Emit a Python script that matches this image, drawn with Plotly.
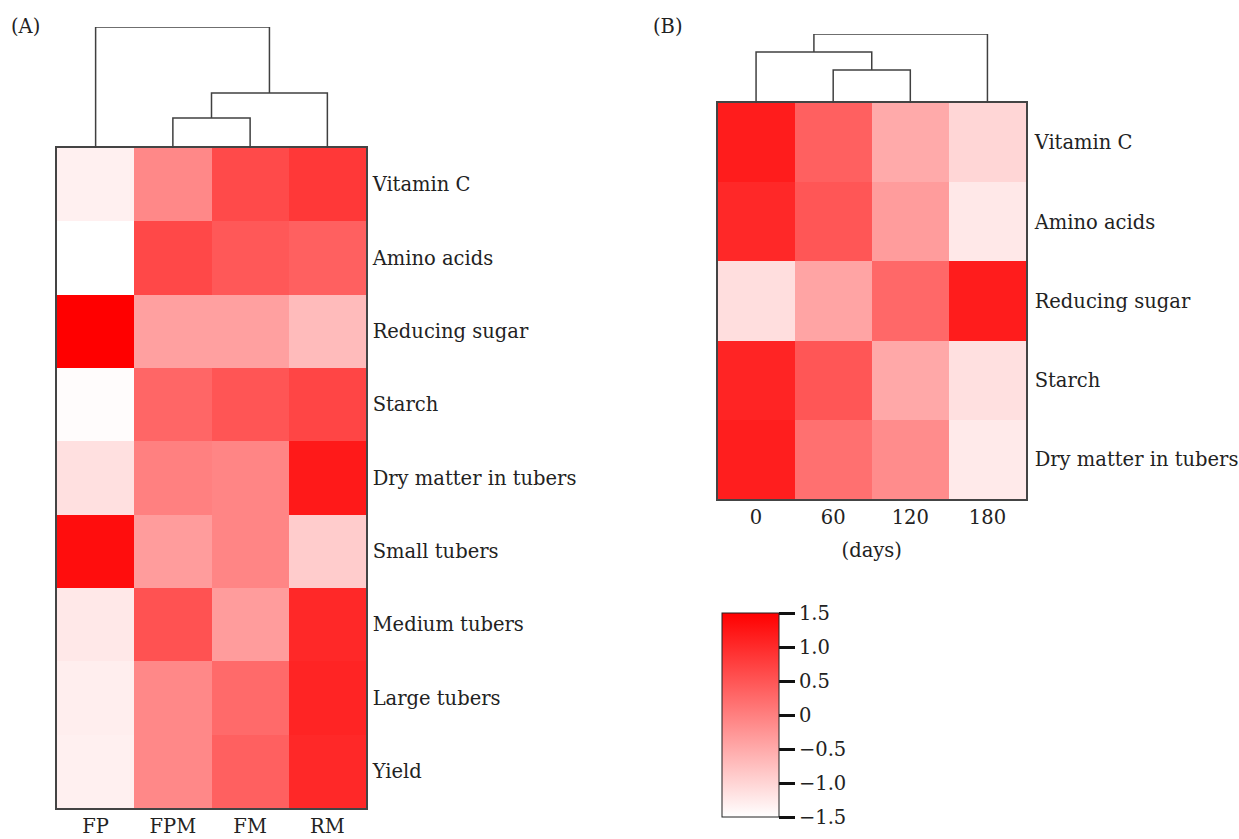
import plotly.graph_objects as go

# ---------------- data ----------------
traits_a = ["Vitamin C", "Amino acids", "Reducing sugar", "Starch",
            "Dry matter in tubers", "Small tubers", "Medium tubers",
            "Large tubers", "Yield"]
treat_a = ["FP", "FPM", "FM", "RM"]
z_a = [
    [-1.32, -0.10, 0.63, 0.84],
    [-1.50, 0.65, 0.46, 0.37],
    [1.50, -0.38, -0.38, -0.70],
    [-1.46, 0.30, 0.50, 0.69],
    [-1.13, 0.00, -0.06, 1.21],
    [1.35, -0.34, -0.06, -0.90],
    [-1.23, 0.54, -0.34, 1.03],
    [-1.30, -0.10, 0.25, 1.08],
    [-1.32, -0.10, 0.37, 1.03],
]

traits_b = ["Vitamin C", "Amino acids", "Reducing sugar", "Starch",
            "Dry matter in tubers"]
days_b = ["0", "60", "120", "180"]
z_b = [
    [1.17, 0.37, -0.50, -1.02],
    [1.03, 0.49, -0.34, -1.23],
    [-1.11, -0.43, 0.28, 1.17],
    [1.08, 0.49, -0.48, -1.13],
    [1.15, 0.18, -0.15, -1.25],
]

# dendrogram linkages: (left node, right node, merge height); leaves = column index,
# new nodes numbered from n_leaves upward
link_a = [(1, 2, 30), (4, 3, 55), (0, 5, 121)]
link_b = [(1, 2, 33), (0, 4, 51), (5, 3, 69)]

cb_ticks = [1.5, 1.0, 0.5, 0, -0.5, -1.0, -1.5]
cb_text = ["1.5", "1.0", "0.5", "0", "\u22120.5", "\u22121.0", "\u22121.5"]

# ---------------- helpers ----------------
W, H = 1239, 839
FONT = "DejaVu Serif"
TXT = "#222222"
FS = 19.5


def px_x(a, b):
    return [a / W, b / W]


def px_y(top, bottom):
    return [1 - bottom / H, 1 - top / H]


def dendro_xy(link, n):
    pos = {i: float(i) for i in range(n)}
    hgt = {i: 0.0 for i in range(n)}
    xs, ys = [], []
    for k, (l, r, h) in enumerate(link):
        xs += [pos[l], pos[l], pos[r], pos[r], None]
        ys += [hgt[l], h, h, hgt[r], None]
        node = n + k
        pos[node] = (pos[l] + pos[r]) / 2
        hgt[node] = h
    return xs, ys


fig = go.Figure()

fig.add_trace(go.Heatmap(z=z_a, x=treat_a, y=traits_a, coloraxis="coloraxis",
                         xaxis="x", yaxis="y"))
fig.add_trace(go.Heatmap(z=z_b, x=days_b, y=traits_b, coloraxis="coloraxis",
                         xaxis="x3", yaxis="y3"))

dxa, dya = dendro_xy(link_a, len(treat_a))
dxb, dyb = dendro_xy(link_b, len(days_b))
line = dict(color="#404040", width=1.5)
fig.add_trace(go.Scatter(x=dxa, y=dya, mode="lines", line=line,
                         xaxis="x2", yaxis="y2", showlegend=False, hoverinfo="skip"))
fig.add_trace(go.Scatter(x=dxb, y=dyb, mode="lines", line=line,
                         xaxis="x4", yaxis="y4", showlegend=False, hoverinfo="skip"))

tickfont = dict(family=FONT, size=FS, color=TXT)
border = dict(showline=True, mirror=True, linecolor="#444444", linewidth=1.5,
              showgrid=False, zeroline=False)

fig.update_layout(
    width=W, height=H,
    margin=dict(l=0, r=0, t=0, b=0, autoexpand=False),
    paper_bgcolor="white", plot_bgcolor="white",
    showlegend=False,
    font=dict(family=FONT, size=FS, color=TXT),
    coloraxis=dict(
        cmin=-1.5, cmax=1.5,
        colorscale=[[0, "#ffffff"], [1, "#ff0000"]],
        colorbar=dict(
            x=722 / W, xanchor="left", y=1 - 817 / H, yanchor="bottom",
            len=(817 - 613) / H, lenmode="fraction", thickness=57,
            xpad=0, ypad=0,
            outlinewidth=1, outlinecolor="#222222",
            tickvals=cb_ticks, ticktext=cb_text,
            ticks="outside", ticklen=16, tickwidth=2.5, tickcolor="#111111",
            tickfont=tickfont, showticklabels=True,
        ),
    ),
    xaxis=dict(domain=px_x(57, 366), anchor="y", side="bottom",
               ticks="outside", ticklen=0, tickcolor="rgba(0,0,0,0)",
               tickfont=tickfont, **border),
    yaxis=dict(domain=px_y(148, 808), anchor="x", side="right",
               autorange="reversed", ticks="outside", ticklen=1,
               tickcolor="rgba(0,0,0,0)", tickfont=tickfont, **border),
    xaxis2=dict(domain=px_x(57, 366), anchor="y2", range=[-0.5, 3.5],
                visible=False),
    yaxis2=dict(domain=px_y(27, 148), anchor="x2", range=[0, 121],
                visible=False),
    xaxis3=dict(domain=px_x(717.5, 1026), anchor="y3", side="bottom",
                ticks="outside", ticklen=0, tickcolor="rgba(0,0,0,0)",
                tickfont=tickfont,
                title=dict(text="(days)", font=tickfont, standoff=15), **border),
    yaxis3=dict(domain=px_y(103, 499), anchor="x3", side="right",
                autorange="reversed", ticks="outside", ticklen=3,
                tickcolor="rgba(0,0,0,0)", tickfont=tickfont, **border),
    xaxis4=dict(domain=px_x(717.5, 1026), anchor="y4", range=[-0.5, 3.5],
                visible=False),
    yaxis4=dict(domain=px_y(34, 103), anchor="x4", range=[0, 69],
                visible=False),
    annotations=[
        dict(text="(A)", x=9 / W, y=1 - 27 / H, xref="paper", yref="paper",
             xanchor="left", yanchor="middle", showarrow=False,
             font=dict(family=FONT, size=FS, color=TXT)),
        dict(text="(B)", x=651 / W, y=1 - 27 / H, xref="paper", yref="paper",
             xanchor="left", yanchor="middle", showarrow=False,
             font=dict(family=FONT, size=FS, color=TXT)),
    ],
)

# remove the browser's default 8px page margin so the figure fills the window
fig.write_html("out.html",
               config={"displayModeBar": False},
               post_script="document.body.style.margin='0';"
                           "document.body.style.overflow='hidden';")
